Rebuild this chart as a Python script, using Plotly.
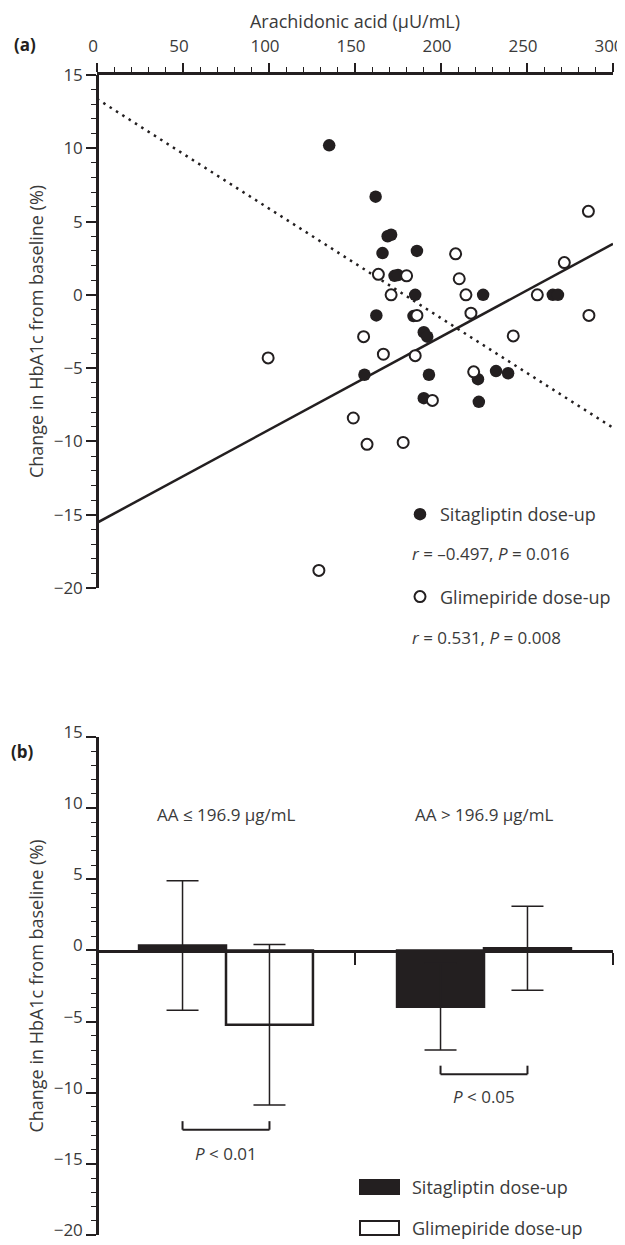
import plotly.graph_objects as go

OFF = 8                     # page body margin of the html page
W, H = 625 - OFF, 1245 - OFF
FONT = "Open Sans"
TXT = "#3a3a3a"
INK = "#231f20"

# ---------------- Panel (a) data ----------------
sita_aa = [135, 162, 169, 171, 166, 186, 173, 175, 185, 162.4, 184, 190, 192,
           155.5, 193, 221.5, 232, 239, 190, 222, 224.5, 265, 268]
sita_hba1c = [10.2, 6.7, 4.0, 4.1, 2.85, 3.0, 1.3, 1.35, 0.0, -1.4, -1.45, -2.55, -2.85,
              -5.45, -5.45, -5.75, -5.2, -5.35, -7.05, -7.3, 0.0, 0.0, 0.0]
glim_aa = [208.5, 163.6, 180, 210.6, 171, 214.5, 186, 217.4, 155, 166.5, 185, 219,
           195, 149, 157, 178, 129, 99.5, 285.7, 271.7, 256, 286, 242]
glim_hba1c = [2.8, 1.4, 1.3, 1.1, 0.0, 0.0, -1.4, -1.25, -2.85, -4.05, -4.15, -5.25,
              -7.2, -8.4, -10.2, -10.07, -18.8, -4.3, 5.7, 2.2, 0.0, -1.4, -2.8]
fit_aa = [0, 300]
sita_fit = [13.37, -9.07]
glim_fit = [-15.55, 3.48]
sita_stats = "<i>r</i> = –0.497, <i>P</i> = 0.016"
glim_stats = "<i>r</i> = 0.531, <i>P</i> = 0.008"

# ---------------- Panel (b) data ----------------
groups = ["AA ≤ 196.9 μg/mL", "AA > 196.9 μg/mL"]
sita_mean = [0.35, -3.95]
sita_sd = [4.55, 3.05]
glim_mean = [-5.22, 0.15]
glim_sd = [5.64, 2.95]
p_labels = ["<i>P</i> &lt; 0.01", "<i>P</i> &lt; 0.05"]
bracket_y = [-12.6, -8.7]
p_label_y = [-14.3, -10.25]
series_names = ["Sitagliptin dose-up", "Glimepiride dose-up"]


def px(x):
    return (x - OFF) / W


def py(y):
    return 1 - (y - OFF) / H


BARGAP = 0.326

fig = go.Figure()

# regression lines (panel a)
fig.add_trace(go.Scatter(x=fit_aa, y=sita_fit, mode="lines", showlegend=False,
                         line=dict(color=INK, width=2.5, dash="2.5px,5px"),
                         xaxis="x", yaxis="y", hoverinfo="skip"))
fig.add_trace(go.Scatter(x=fit_aa, y=glim_fit, mode="lines", showlegend=False,
                         line=dict(color=INK, width=2.5),
                         xaxis="x", yaxis="y", hoverinfo="skip"))
# points
fig.add_trace(go.Scatter(x=sita_aa, y=sita_hba1c, mode="markers", name=series_names[0],
                         legendgroup="s",
                         marker=dict(size=12.5, color=INK, line=dict(width=0)),
                         xaxis="x", yaxis="y"))
fig.add_trace(go.Scatter(x=glim_aa, y=glim_hba1c, mode="markers", name=series_names[1],
                         legendgroup="g",
                         marker=dict(size=11, color="white", line=dict(width=2, color=INK)),
                         xaxis="x", yaxis="y"))

# bars (panel b)
fig.add_trace(go.Bar(x=groups, y=sita_mean, name=series_names[0], showlegend=False,
                     marker=dict(color=INK, line=dict(color=INK, width=2.5)),
                     error_y=dict(type="data", array=sita_sd, color=INK,
                                  thickness=1.5, width=16),
                     xaxis="x2", yaxis="y2"))
fig.add_trace(go.Bar(x=groups, y=glim_mean, name=series_names[1], showlegend=False,
                     marker=dict(color="white", line=dict(color=INK, width=2.5)),
                     error_y=dict(type="data", array=glim_sd, color=INK,
                                  thickness=1.5, width=16),
                     xaxis="x2", yaxis="y2"))

axis_common = dict(showline=True, linecolor=INK, linewidth=2.5, showgrid=False,
                   zeroline=False, ticks="outside", tickcolor=INK, tickwidth=1.5,
                   automargin=False, ticklabeloverflow="allow",
                   tickfont=dict(family=FONT, size=17, color=TXT))

xdom = [px(97), px(613)]
ytitle = dict(text="Change in HbA1c from baseline (%)", standoff=4,
              font=dict(size=18, color=TXT, family=FONT))

fig.update_layout(
    width=W, height=H, autosize=False,
    margin=dict(l=0, r=0, t=0, b=0, pad=0, autoexpand=False),
    paper_bgcolor="white", plot_bgcolor="white",
    font=dict(family=FONT, color=TXT),
    barmode="group", bargap=BARGAP, bargroupgap=0,
    xaxis=dict(domain=xdom, range=[0, 300], side="top", anchor="y",
               tickmode="linear", tick0=0, dtick=50, ticklen=9, ticklabelstandoff=4,
               ticklabelshift=-4,
               minor=dict(dtick=10, ticklen=5, tickwidth=1.2, tickcolor=INK, ticks="outside"),
               title=dict(text="Arachidonic acid (μU/mL)", standoff=2,
                          font=dict(size=18, color=TXT, family=FONT)),
               **axis_common),
    yaxis=dict(domain=[py(588), py(75)], range=[-20, 15], anchor="free", position=px(97),
               tickmode="linear", tick0=-20, dtick=5, ticklen=10,
               minor=dict(dtick=1, ticklen=5, tickwidth=1.2, tickcolor=INK, ticks="outside"),
               title=ytitle, **axis_common),
    xaxis2=dict(domain=xdom, type="category", range=[-0.5, 1.5], anchor="free",
                position=py(951), tickson="boundaries", ticklen=12,
                showticklabels=False, **axis_common),
    yaxis2=dict(domain=[py(1235), py(737)], range=[-20, 15], anchor="free", position=px(97),
                tickmode="linear", tick0=-20, dtick=5, ticklen=10, ticklabelshift=-5,
                minor=dict(dtick=1, ticklen=5, tickwidth=1.2, tickcolor=INK, ticks="outside"),
                title=ytitle, **axis_common),
    legend=dict(x=px(400), xanchor="left", y=py(496), yanchor="top",
                font=dict(size=18, color=TXT, family=FONT), bgcolor="rgba(0,0,0,0)",
                tracegroupgap=56, itemsizing="trace"),
)

ann = []


def note(text, x, y, xref="paper", yref="paper", size=17, xanchor="center", color=TXT):
    ann.append(dict(text=text, x=x, y=y, xref=xref, yref=yref, xanchor=xanchor,
                    yanchor="middle", showarrow=False,
                    font=dict(size=size, color=color, family=FONT)))


# panel labels
note("<b>(a)</b>", px(25), py(45), color=INK)
note("<b>(b)</b>", px(22), py(752), color=INK)
# stats text
note(sita_stats, px(410), py(553), xanchor="left")
note(glim_stats, px(410), py(637), xanchor="left")
# group labels
for g in groups:
    note(g.replace(">", "&gt;"), g, 9.55, xref="x2", yref="y2")
# p labels
for i, g in enumerate(groups):
    note(p_labels[i], g, p_label_y[i], xref="x2", yref="y2")
# panel b legend text
note(series_names[0], px(410), py(1187), size=18, xanchor="left")
note(series_names[1], px(410), py(1228), size=18, xanchor="left")

shapes = []
half = (1 - BARGAP) / 4  # offset of bar centre from group centre
for i in range(len(groups)):
    x0, x1 = i - half, i + half
    yb = bracket_y[i]
    leg = 0.6
    shapes.append(dict(type="line", xref="x2", yref="y2", x0=x0, x1=x1, y0=yb, y1=yb,
                       line=dict(color=INK, width=2)))
    for xx in (x0, x1):
        shapes.append(dict(type="line", xref="x2", yref="y2", x0=xx, x1=xx, y0=yb, y1=yb + leg,
                           line=dict(color=INK, width=2)))
# panel b legend swatches
shapes.append(dict(type="rect", xref="paper", yref="paper", x0=px(360), x1=px(399),
                   y0=py(1194), y1=py(1180), fillcolor=INK, line=dict(color=INK, width=2)))
shapes.append(dict(type="rect", xref="paper", yref="paper", x0=px(360), x1=px(399),
                   y0=py(1235), y1=py(1221), fillcolor="white", line=dict(color=INK, width=2)))

fig.update_layout(annotations=ann, shapes=shapes)
fig.write_html("out.html")
